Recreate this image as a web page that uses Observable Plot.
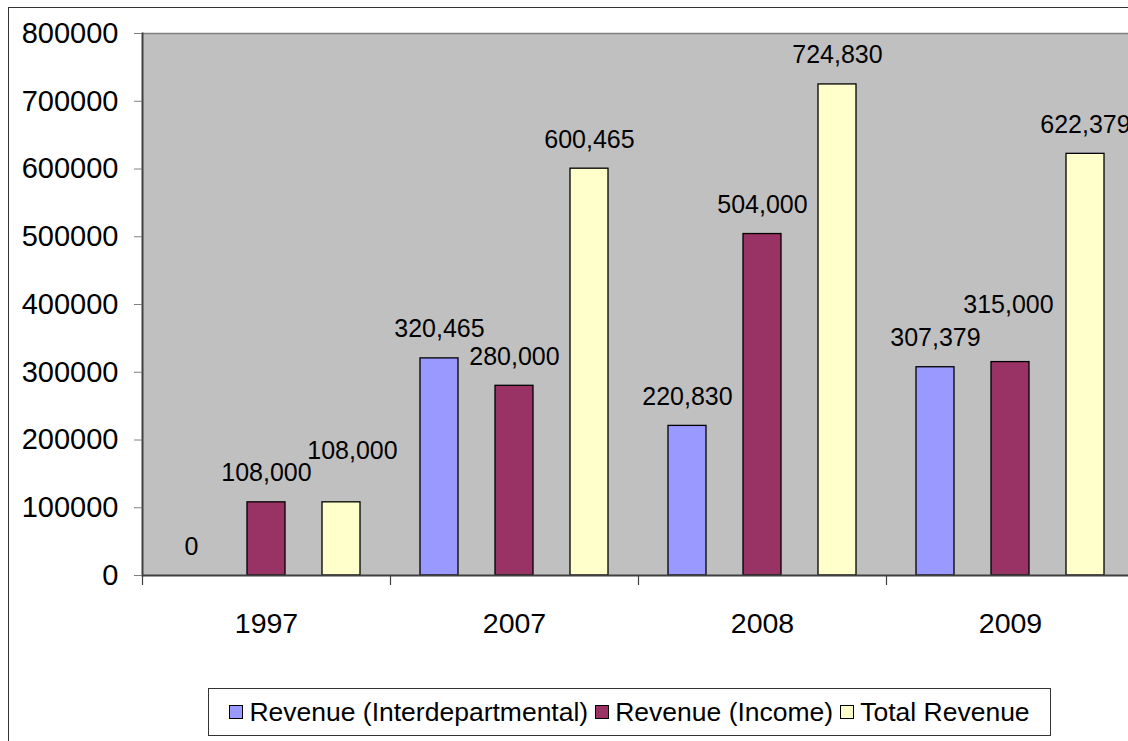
<!DOCTYPE html>
<html>
<head>
<meta charset="utf-8">
<script src="https://cdn.jsdelivr.net/npm/d3@7"></script>
<script src="https://cdn.jsdelivr.net/npm/@observablehq/plot@0.6"></script>
<style>
  html, body { margin: 0; padding: 0; background: #fff; }
  body { width: 1128px; height: 741px; position: relative; overflow: hidden;
         font-family: "Liberation Sans", Arial, sans-serif; }
  #chart { position: absolute; left: 0; top: 0; }
  #border { position: absolute; left: 8px; top: 7px; width: 1200px; height: 800px;
            border-top: 1.5px solid #333; border-left: 1.5px solid #333; z-index: 5; pointer-events: none; }
  #legend { position: absolute; left: 208px; top: 688px; width: 843px; height: 48px;
            border: 1px solid #333; box-sizing: border-box; display: flex; align-items: center;
            justify-content: center; font-size: 26.5px; color: #000; white-space: nowrap; background: #fff; }
  .item { display: flex; align-items: center; margin: 0 3.5px; }
  .sw { width: 12px; height: 12px; border: 1px solid #000; margin-right: 6px; }
</style>
</head>
<body>
<div id="chart"></div>
<div id="border"></div>
<div id="legend"></div>
<script>
// ---- data ----
const years = ["1997", "2007", "2008", "2009"];
const seriesNames = ["Revenue (Interdepartmental)", "Revenue (Income)", "Total Revenue"];
const interdepartmental = [0, 320465, 220830, 307379];
const income = [108000, 280000, 504000, 315000];
const totalRevenue = [108000, 600465, 724830, 622379];
const yTicks = [0, 100000, 200000, 300000, 400000, 500000, 600000, 700000, 800000];
const seriesColors = ["#9999FF", "#993366", "#FFFFCC"];

const seriesValues = [interdepartmental, income, totalRevenue];
const rows = [];
years.forEach((year, i) => {
  seriesNames.forEach((series, s) => rows.push({year, series, value: seriesValues[s][i]}));
});

// label collisions moved by hand as in the original
const shifted = [
  {year: "1997", series: "Total Revenue", dx: 11, dy: -22},
  {year: "2009", series: "Revenue (Income)", dx: -2, dy: -28}
];
const isShifted = d => shifted.some(s => s.year === d.year && s.series === d.series);

// ---- layout ----
const W = 1128, H = 680, plotTop = 33, plotBottom = 575, plotLeft = 142, plotRightOverflow = -6;
const facetWidth = (W - plotLeft - plotRightOverflow) / years.length;
const fmt = d3.format(",");
const font = '"Liberation Sans", Arial, sans-serif';

const labelMark = (data, dx, dy) => Plot.text(data, {
  fx: "year", x: "series", y: "value", text: d => fmt(d.value),
  lineAnchor: "bottom", dx, dy: -21 + dy, fontSize: 25, fill: "black"
});

const chart = Plot.plot({
  width: W,
  height: H,
  marginTop: plotTop,
  marginBottom: H - plotBottom,
  marginLeft: plotLeft,
  marginRight: plotRightOverflow,
  style: {background: "transparent", fontFamily: font, color: "black", overflow: "hidden"},
  fx: {domain: years, padding: 0, label: null},
  x: {domain: seriesNames, paddingInner: 0.5, paddingOuter: 0.4, axis: null, label: null},
  y: {domain: [0, 800000], label: null},
  color: {domain: seriesNames, range: seriesColors},
  marks: [
    Plot.frame({fill: "#C0C0C0", stroke: null, shapeRendering: "crispEdges"}),
    Plot.ruleY([800000], {stroke: "#808080", strokeWidth: 1.5}),
    Plot.barY(rows, {
      filter: d => d.value > 0,
      fx: "year", x: "series", y: "value", fill: "series",
      stroke: "black", strokeWidth: 1.3
    }),
    Plot.ruleY([0], {stroke: "#404040", strokeWidth: 2}),
    Plot.frame({anchor: "left", facetAnchor: "left", stroke: "#404040", strokeWidth: 2}),
    Plot.axisY({
      ticks: yTicks, tickSize: 8, tickPadding: 16, tickFormat: d => String(d),
      fontSize: 29, stroke: "#808080", fill: "black", label: null
    }),
    // category boundary ticks below the axis
    Plot.axisFx({anchor: "bottom", tickSize: 10, tickFormat: () => "", dx: -facetWidth / 2,
      stroke: "#404040", strokeWidth: 1.2, label: null}),
    Plot.axisFx({anchor: "bottom", tickSize: 0, tickPadding: 37, fontSize: 28.5, fill: "black", label: null}),
    labelMark(rows.filter(d => !isShifted(d)), 0, 0),
    ...shifted.map(s => labelMark(rows.filter(d => d.year === s.year && d.series === s.series), s.dx, s.dy))
  ]
});
document.getElementById("chart").appendChild(chart);

// ---- legend ----
const legend = document.getElementById("legend");
seriesNames.forEach((name, i) => {
  const item = document.createElement("div");
  item.className = "item";
  const sw = document.createElement("div");
  sw.className = "sw";
  sw.style.background = seriesColors[i];
  const label = document.createElement("span");
  label.textContent = name;
  item.appendChild(sw);
  item.appendChild(label);
  legend.appendChild(item);
});
</script>
</body>
</html>
